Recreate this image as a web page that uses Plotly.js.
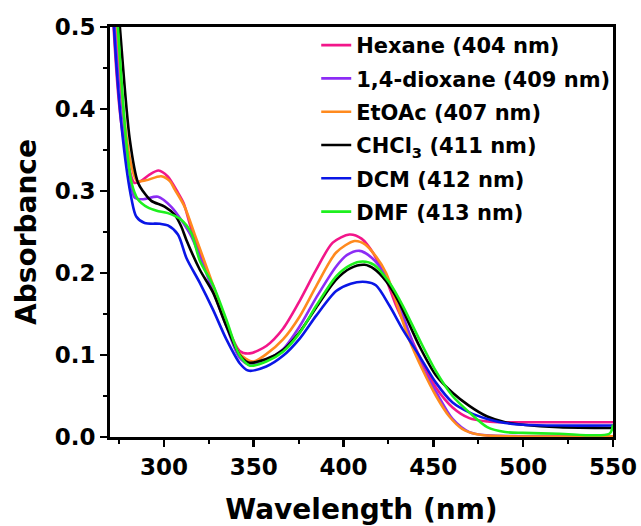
<!DOCTYPE html>
<html>
<head>
<meta charset="utf-8">
<script src="https://cdn.plot.ly/plotly-3.0.1.min.js"></script>
<style>html,body{margin:0;padding:0;background:#fff;}#chart{width:641px;height:526px;}</style>
</head>
<body>
<div id="chart"></div>
<script>
// Series names (legend labels)
const seriesNames = ["Hexane (404 nm)", "1,4-dioxane (409 nm)", "EtOAc (407 nm)", "CHCl<sub>3</sub> (411 nm)", "DCM (412 nm)", "DMF (413 nm)"];
const seriesColors = ["#f2168a", "#8c2cf5", "#ff8a1e", "#000000", "#0a16e6", "#1ef01e"];

// Hexane
const wlHexane = [270,272,276,280,283.5,287,292,297,302,307.8,311,315.2,320,327.4,334.8,342.2,347.8,357,366.3,375.6,384.8,394,403.3,410,416.3,423.7,429.3,436.7,444,451.5,460.7,470,480,490,510,530,550];
const absHexane = [0.62,0.50,0.387,0.335,0.310,0.312,0.320,0.325,0.318,0.298,0.285,0.254,0.225,0.180,0.138,0.105,0.102,0.111,0.132,0.166,0.204,0.237,0.247,0.242,0.225,0.192,0.160,0.125,0.090,0.060,0.036,0.023,0.019,0.018,0.018,0.018,0.018];

// 1,4-dioxane
const wlDioxane = [270,273,277.5,281,283.7,288.5,296.7,304,309.6,315.2,320,327.4,334.8,342,348,357,366.3,375.6,384.8,395.9,402,408.9,416,423.7,431,438.5,444,451.5,460.7,470,480,500,550];
const absDioxane = [0.62,0.50,0.387,0.320,0.292,0.290,0.293,0.281,0.265,0.245,0.220,0.178,0.135,0.097,0.088,0.094,0.107,0.135,0.170,0.208,0.222,0.227,0.218,0.196,0.160,0.115,0.084,0.055,0.022,0.006,0.002,0.001,0.001];

// EtOAc
const wlEtOAc = [270,274,278,282,285,290,298.5,303.3,306,311.5,317,320,327.4,334.8,342,349.6,357,366.3,375.6,384.8,395.9,406.1,412,418.1,423.7,429.3,436.7,444,451.5,458.9,466,475,490,550];
const absEtOAc = [0.62,0.50,0.387,0.330,0.312,0.313,0.318,0.312,0.302,0.281,0.248,0.230,0.185,0.140,0.102,0.092,0.101,0.119,0.147,0.184,0.225,0.239,0.235,0.220,0.200,0.165,0.118,0.082,0.050,0.025,0.010,0.003,0.001,0.001];

// CHCl3
const wlCHCl3 = [270,275.5,281,285.6,288.3,293,300.4,306,309.6,312.4,320,327.4,334.8,342.2,347,357,366.3,375.6,384.8,395.9,404,411.7,417,423.7,431,442.2,451.5,460.7,470,480,490,500,520,550];
const absCHCl3 = [0.66,0.50,0.363,0.310,0.300,0.288,0.281,0.271,0.257,0.241,0.204,0.176,0.135,0.100,0.091,0.095,0.106,0.128,0.158,0.192,0.206,0.210,0.205,0.190,0.164,0.111,0.075,0.054,0.038,0.025,0.018,0.015,0.012,0.011];

// DCM
const wlDCM = [270,272.2,277.2,282,284.6,289.3,297.8,302.2,307.8,312.6,320,327.4,334.8,342.2,346.9,357,366.3,375.6,384.8,395.9,404,412.6,418,425.6,433,442.2,451.5,460.7,470,480,490,500,520,550];
const absDCM = [0.62,0.50,0.363,0.290,0.269,0.261,0.260,0.258,0.247,0.218,0.188,0.155,0.119,0.090,0.081,0.086,0.099,0.120,0.148,0.178,0.187,0.189,0.185,0.160,0.131,0.099,0.066,0.042,0.030,0.022,0.017,0.015,0.014,0.014];

// DMF
const wlDMF = [270,274.4,278.9,282,285.5,291,296,302.2,309.6,315.2,320,327.4,334.8,342,348,357,366.3,375.6,384.8,395.9,404,410.7,417,425.6,433,442.2,451.5,460.7,470,480,490,500,520,548,550];
const absDMF = [0.66,0.50,0.363,0.310,0.290,0.280,0.276,0.273,0.265,0.249,0.215,0.185,0.143,0.100,0.087,0.092,0.104,0.127,0.160,0.196,0.210,0.214,0.210,0.188,0.160,0.119,0.080,0.050,0.030,0.012,0.006,0.005,0.004,0.004,0.015];

const xData = [wlHexane, wlDioxane, wlEtOAc, wlCHCl3, wlDCM, wlDMF];
const yData = [absHexane, absDioxane, absEtOAc, absCHCl3, absDCM, absDMF];

const FONT = "DejaVu Sans, Arial, sans-serif";

const traces = seriesNames.map((name, i) => ({
  type: "scatter",
  mode: "lines",
  name: name,
  legendgroup: "g" + i,
  x: xData[i],
  y: yData[i],
  line: {color: seriesColors[i], width: 2.6, shape: "spline", smoothing: 0.8},
  hoverinfo: "skip"
}));

const axisCommon = {
  showgrid: false,
  zeroline: false,
  showline: true,
  linecolor: "#000",
  linewidth: 3,
  mirror: true,
  ticks: "outside",
  ticklen: 7,
  tickwidth: 2.5,
  tickcolor: "#000",
  tickfont: {family: FONT, size: 23, color: "#000", weight: "bold"}
};

const layout = {
  width: 641,
  height: 526,
  margin: {l: 110, r: 28, t: 27, b: 89},
  paper_bgcolor: "#fff",
  plot_bgcolor: "#fff",
  showlegend: true,
  xaxis: Object.assign({}, axisCommon, {
    range: [270, 550],
    tick0: 300,
    dtick: 50,
    minor: {dtick: 25, tick0: 275, ticks: "outside", ticklen: 4, tickwidth: 2, tickcolor: "#000"},
    title: {text: "Wavelength (nm)", standoff: 24, font: {family: FONT, size: 28, color: "#000", weight: "bold"}}
  }),
  yaxis: Object.assign({}, axisCommon, {
    range: [0, 0.5],
    tick0: 0,
    dtick: 0.1,
    tickformat: ".1f",
    minor: {dtick: 0.05, ticks: "outside", ticklen: 4, tickwidth: 2, tickcolor: "#000"},
    title: {text: "Absorbance", standoff: 10, font: {family: FONT, size: 28, color: "#000", weight: "bold"}}
  }),
  legend: {
    x: 0.41, xanchor: "left",
    y: 1.005, yanchor: "top",
    bgcolor: "rgba(0,0,0,0)",
    borderwidth: 0,
    tracegroupgap: 3,
    font: {family: FONT, size: 21, color: "#000", weight: "bold"}
  }
};

Plotly.newPlot("chart", traces, layout, {staticPlot: true, displayModeBar: false});
</script>
</body>
</html>
